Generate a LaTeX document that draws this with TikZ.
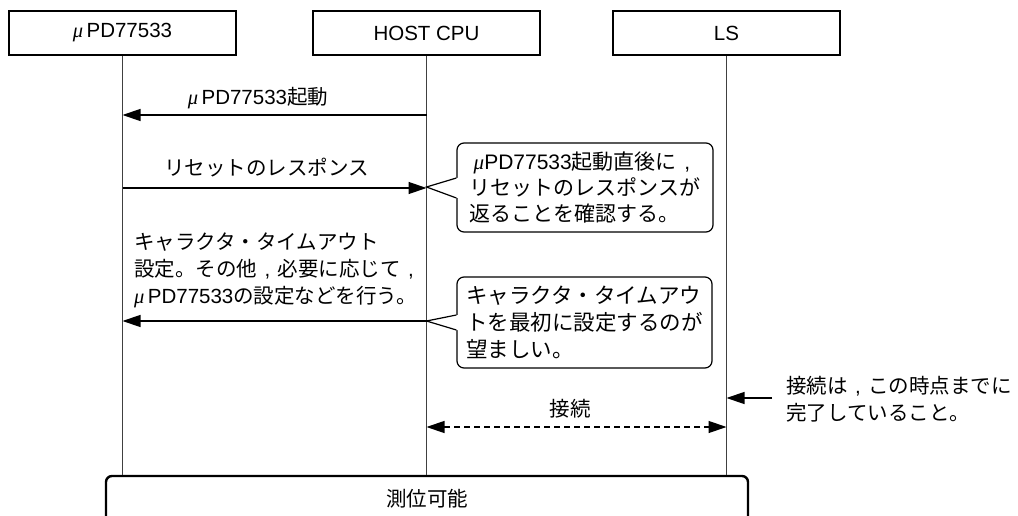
\documentclass[tikz,border=0pt]{standalone}
\usepackage{fontspec}
\setmainfont{Liberation Sans}
\newfontfamily\cjk{Noto Sans CJK JP}
\newfontfamily\muf{Liberation Serif}
\usetikzlibrary{arrows.meta}
\newcommand\jpn[1]{{\cjk #1}}
\newcommand\mup{{\muf\itshape μ}}
\newcommand\jcm{\makebox[1em]{,}}
\begin{document}
\begin{tikzpicture}[x=1pt,y=-1pt,
  every node/.style={font=\fontsize{20.5}{27}\selectfont, inner sep=0pt},
  head/.style={draw, line width=2.6pt, minimum width=227pt, minimum height=44pt},
  life/.style={draw=black!75, line width=1pt},
  msg/.style={line width=1.3pt, -{Triangle[length=18pt,width=12pt]}},
  callout/.style={draw, line width=1.2pt, rounded corners=7pt, fill=white, align=left},
  ptr/.style={line width=1.2pt, line join=miter},
  lbl/.style={align=left}]
\useasboundingbox (0,0) rectangle (1018,516);
\clip (0,0) rectangle (1018,516);

% headers
\node[head] (mu) at (122.5,33) {\mup\,PD77533};
\node[head] (host) at (426.5,33) {HOST CPU};
\node[head] (ls) at (726.5,33) {LS};
\node[draw, line width=2.4pt, rounded corners=6pt, minimum width=642pt, minimum height=46pt] (pos) at (427,499) {\jpn{測位可能}};

% lifelines
\draw[life] (mu.south) -- (mu.south |- pos.north);
\draw[life] (host.south) -- (host.south |- pos.north);
\draw[life] (ls.south) -- (ls.south |- pos.north);

% message 1
\coordinate (a1s) at (host.south |- 0,115);
\coordinate (a1e) at (mu.south |- 0,115);
\draw[msg] (a1s) -- (a1e);
\node (l1) at (258,98) {\mup\,PD77533\jpn{起動}};

% callout 1
\node[callout, minimum width=256pt, minimum height=89pt, font=\fontsize{21}{26}\selectfont] (c1) at (585,187.5)
  {\hspace{4pt}\mup PD77533\jpn{起動直後に}\jcm\\ \jpn{リセットのレスポンスが}\\ \jpn{返ることを確認する。}};
\coordinate (c1t) at (host.south |- 0,187);
\coordinate (c1a) at (c1.west |- 0,178);
\coordinate (c1b) at (c1.west |- 0,198);
\fill[white] (c1a) -- (c1t) -- (c1b) -- ([xshift=2pt]c1b) -- ([xshift=2pt]c1a) -- cycle;
\draw[ptr] (c1a) -- (c1t) -- (c1b);

% message 2
\coordinate (a2s) at (mu.south |- 0,188);
\coordinate (a2e) at (host.south |- 0,188);
\draw[msg] (a2s) -- (a2e);
\node (l2) at (266.5,168) {\jpn{リセットのレスポンス}};

% callout 2
\node[callout, minimum width=255pt, minimum height=91pt, font=\fontsize{21.5}{27}\selectfont] (c2) at (584.5,322.5)
  {\jpn{キャラクタ・タイムアウ}\\ \jpn{トを最初に設定するのが}\\ \jpn{望ましい。}};
\coordinate (c2t) at (host.south |- 0,321);
\coordinate (c2a) at (c2.west |- 0,315);
\coordinate (c2b) at (c2.west |- 0,330);
\fill[white] (c2a) -- (c2t) -- (c2b) -- ([xshift=2pt]c2b) -- ([xshift=2pt]c2a) -- cycle;
\draw[ptr] (c2a) -- (c2t) -- (c2b);

% message 3
\coordinate (a3s) at (host.south |- 0,321);
\coordinate (a3e) at (mu.south |- 0,321);
\draw[msg] (a3s) -- (a3e);
\node[lbl, anchor=west] (l3) at (134,270)
  {\jpn{キャラクタ・タイムアウト}\\ \jpn{設定。その他}\jcm\jpn{必要に応じて}\jcm\\ \mup\,PD77533\jpn{の設定などを行う。}};

% connection
\coordinate (d1) at (host.south |- 0,427);
\coordinate (d2) at (ls.south |- 0,427);
\draw[line width=1.3pt, dash pattern=on 6pt off 4pt, {Triangle[length=18pt,width=12pt]}-{Triangle[length=18pt,width=12pt]}] (d1) -- (d2);
\node (l4) at (570,409) {\jpn{接続}};

% note
\coordinate (n1) at (772,398);
\coordinate (n2) at (ls.south |- 0,398);
\draw[msg] (n1) -- (n2);
\node[lbl, anchor=west] (note) at (786,399) {\jpn{接続は}\jcm\jpn{この時点までに}\\ \jpn{完了していること。}};
\end{tikzpicture}
\end{document}
